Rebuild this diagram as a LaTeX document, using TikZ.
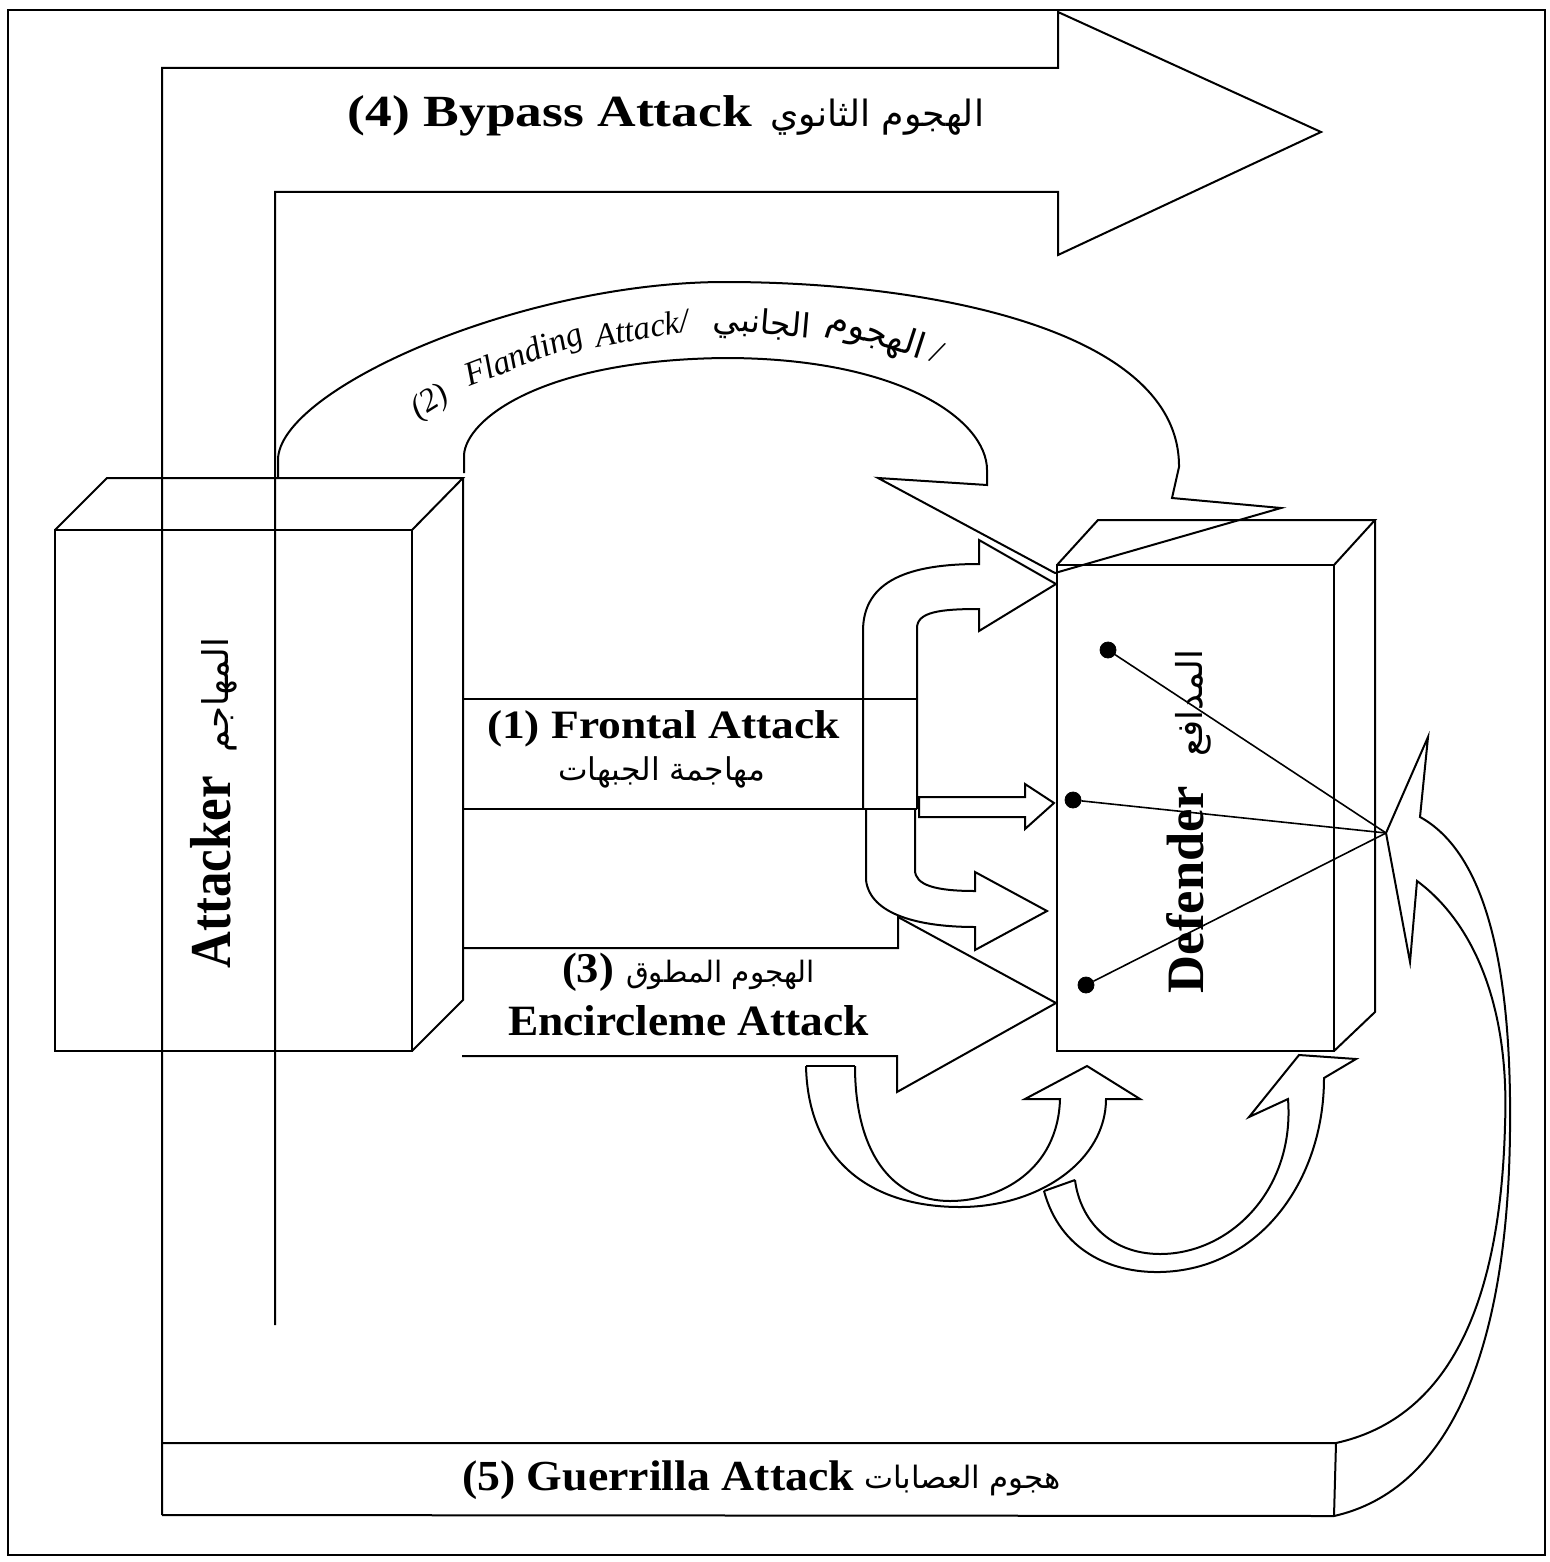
\documentclass[tikz,border=0pt]{standalone}
\usepackage{fontspec}
\usepackage{graphicx}
\setmainfont{Liberation Serif}
\newfontfamily\arabicfont[Script=Arabic]{DejaVu Sans}
\TeXXeTstate=1
% bold Latin label squeezed/stretched to a given width
\newcommand{\lat}[3]{\resizebox{#1}{!}{\scalebox{#2}[1]{\bfseries #3}}}
% italic Latin word at a given width
\newcommand{\ita}[2]{\resizebox{#1}{!}{\fontsize{17}{17}\selectfont\itshape #2}}
% Arabic label at a given width (the text itself carries \beginR ... \endR)
\newcommand{\arb}[2]{\resizebox{#1}{!}{\arabicfont #2}}

\begin{document}
\begin{tikzpicture}[x=0.5pt, y=-0.5pt,
  edge/.style={draw=black, line width=1pt, line join=miter},
  frameline/.style={draw=black, line width=0.8pt},
  lbl/.style={inner sep=0pt, outer sep=0pt},
  dotmark/.style={circle, fill=black, draw=black, minimum size=8pt, inner sep=0pt}]

\useasboundingbox (0,0) rectangle (1550,1562);
\fill[white] (0,0) rectangle (1550,1562);
\draw[frameline] (8,10) rectangle (1545,1555);

% ---------- Attacker block ----------
\draw[edge] (55,530) rectangle (412,1051);
\draw[edge] (55,530) -- (107,478) -- (463,478) -- (412,530);
\draw[edge] (463,478) -- (463,1000) -- (412,1051);

% ---------- Defender block ----------
\draw[edge] (1057,565) rectangle (1334,1051);
\draw[edge] (1057,565) -- (1098,520) -- (1375,520) -- (1334,565);
\draw[edge] (1375,520) -- (1375,1012) -- (1334,1051);

% ---------- key points ----------
\coordinate (gtip) at (1386,833);
\coordinate (fltip) at (1055,573);

% ---------- (4) Bypass attack: L-shaped arrow ----------
\draw[edge] (275,1325) -- (275,192) -- (1058,192) -- (1058,255) -- (1321,132)
  -- (1058,12) -- (1058,68) -- (162,68) -- (162,1515);

% ---------- (5) Guerrilla attack: bar curling up to the defender ----------
\draw[edge] (162,1443) -- (1336,1443)
  .. controls (1440,1420) and (1500,1320) .. (1505,1125)
  .. controls (1510,1000) and (1470,920) .. (1417,881)
  -- (1410,962) -- (gtip) -- (1428,737) -- (1420,817)
  .. controls (1480,850) and (1512,950) .. (1510,1130)
  .. controls (1508,1350) and (1450,1490) .. (1334,1516) -- (162,1515);
\draw[edge] (1336,1443) -- (1334,1516);

% ---------- (2) Flanking attack: arch over the top ----------
\draw[edge] (278,477) -- (278,460)
  .. controls (278,390) and (520,282) .. (725,282)
  .. controls (930,282) and (1180,330) .. (1179,467) -- (1172,498)
  -- (1281,508) -- (fltip) -- (878,478) -- (987,485) -- (987,470)
  .. controls (987,420) and (900,358) .. (725,358)
  .. controls (540,360) and (466,420) .. (464,455) -- (464,473);

% ---------- (1) Frontal attack: bar splitting into three heads ----------
\draw[edge] (462,699) -- (917,699);
\draw[edge] (462,809) -- (917,809);
% upper head
\draw[edge] (863,809) -- (863,631)
  .. controls (863,580) and (910,564) .. (979,564)
  -- (979,540) -- (1056,584) -- (979,631) -- (979,609)
  .. controls (940,609) and (917,612) .. (917,628) -- (917,809);
% middle head
\draw[edge] (919,797) -- (1025,797) -- (1025,784) -- (1054,803)
  -- (1025,829) -- (1025,817) -- (919,817) -- cycle;
% lower head
\draw[edge] (866,809) -- (866,880)
  .. controls (870,915) and (920,927) .. (975,927)
  -- (975,950) -- (1047,911) -- (975,872) -- (975,891)
  .. controls (935,891) and (915,885) .. (915,870) -- (915,809);

% ---------- (3) Encirclement attack ----------
\draw[edge] (462,948) -- (898,948) -- (898,917) -- (1056,1003)
  -- (897,1092) -- (897,1056) -- (462,1056);

% first curled arrow under the encirclement bar
\draw[edge] (806,1066) -- (855,1066);
\draw[edge] (806,1066) .. controls (808,1160) and (870,1207) .. (960,1207)
  .. controls (1040,1207) and (1106,1160) .. (1106,1099)
  -- (1140,1099) -- (1087,1066) -- (1025,1099) -- (1060,1099)
  .. controls (1058,1170) and (1000,1201) .. (950,1201)
  .. controls (890,1201) and (855,1150) .. (855,1066);

% second curled arrow towards the defender's corner
\draw[edge] (1044,1191) -- (1075,1180);
\draw[edge] (1044,1191) .. controls (1060,1250) and (1110,1273) .. (1160,1272)
  .. controls (1260,1270) and (1324,1180) .. (1324,1078)
  -- (1356,1059) -- (1299,1055) -- (1249,1117) -- (1288,1099)
  .. controls (1295,1190) and (1230,1254) .. (1160,1254)
  .. controls (1110,1254) and (1080,1220) .. (1075,1180);

% ---------- defender's points and lines of fire ----------
\node[dotmark] (d1) at (1108,650) {};
\node[dotmark] (d2) at (1073,800) {};
\node[dotmark] (d3) at (1086,985) {};
\draw[line width=0.8pt] (d1) -- (gtip);
\draw[line width=0.8pt] (d2) -- (gtip);
\draw[line width=0.8pt] (d3) -- (gtip);

% ---------- labels ----------
\node[lbl, anchor=base east] (bypassen) at (752,127) {\lat{202pt}{1.2}{(4) Bypass Attack}};
\node[lbl, anchor=base west] (bypassar) at (770,127) {\arb{107pt}{\beginR الهجوم الثانوي\endR}};

\node[lbl, anchor=base west] (frontalen) at (487,738) {\lat{176.5pt}{1.13}{(1) Frontal Attack}};
\node[lbl, anchor=base west] (frontalar) at (558,780) {\arb{103.5pt}{\beginR مهاجمة الجبهات\endR}};

\node[lbl, anchor=base west] (encnum) at (562,982) {\lat{26pt}{1.05}{(3)}};
\node[lbl, anchor=base west] (encar) at (626,982) {\arb{94.5pt}{\beginR الهجوم المطوق\endR}};
\node[lbl, anchor=base west] (encen) at (508,1035) {\lat{180.5pt}{1.05}{Encircleme Attack}};

\node[lbl, anchor=base west] (gueren) at (462,1490) {\lat{196pt}{1.07}{(5) Guerrilla Attack}};
\node[lbl, anchor=base west] (guerar) at (864,1488) {\arb{98.5pt}{\beginR هجوم العصابات\endR}};

\node[lbl, anchor=base west, rotate=90] (atten) at (230,968) {\lat{96pt}{0.88}{Attacker}};
\node[lbl, rotate=90] (attar) at (219,695) {\arb{57pt}{\beginR المهاجم\endR}};
\node[lbl, anchor=base west, rotate=90] (defen) at (1203,993) {\lat{103.5pt}{1}{Defender}};
\node[lbl, rotate=90] (defar) at (1193,703) {\arb{53pt}{\beginR المدافع\endR}};

% flanking label, word by word along the arch
\node[lbl, rotate=32] (flnum) at (430,403) {\ita{19pt}{(2)}};
\node[lbl, rotate=21] (flword) at (524,357) {\ita{62pt}{Flanding}};
\node[lbl, rotate=10] (flatk) at (642,328) {\ita{47pt}{Attack/}};
\node[lbl, rotate=-5] (flar1) at (762,325) {\arb{49pt}{\beginR الجانبي\endR}};
\node[lbl, rotate=-18] (flar2) at (876,335) {\arb{50pt}{\beginR الهجوم\endR}};
\node[lbl, rotate=-25] (flslash) at (937,352) {\fontsize{17}{17}\selectfont /};

\end{tikzpicture}
\end{document}
